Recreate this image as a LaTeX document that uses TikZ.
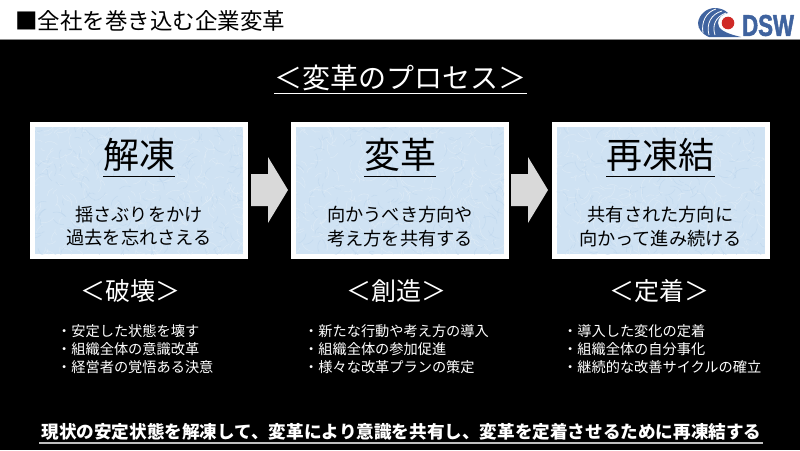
\documentclass[tikz,border=0pt]{standalone}
\usepackage{fontspec}
\setmainfont{Noto Sans CJK JP}
\setsansfont[Scale=1]{Liberation Sans}
\definecolor{paper}{HTML}{CFE2F3}
\definecolor{paperlight}{HTML}{E6F0F8}
\definecolor{paperdark}{HTML}{B9D3EC}
\definecolor{shaft}{HTML}{D9D9D9}
\definecolor{logoblue}{HTML}{3F639F}
\definecolor{logored}{HTML}{CF2A27}
\newcommand{\px}[1]{\fontsize{#1}{#1}\selectfont}
\tikzset{
  x=1pt,y=-1pt,
  cardbox/.style={draw=white,line width=5pt,fill=paper,minimum width=213pt,minimum height=132pt,inner sep=0pt,outer sep=0pt},
  heading/.style={font=\px{36},text=black,inner sep=0pt},
  cardtext/.style={font=\px{18.2},text=black,align=center,inner sep=0pt},
  stagelabel/.style={font=\px{25},text=white,inner sep=0pt},
  notes/.style={font=\px{14.2},text=white,align=left,anchor=north west,inner sep=0pt},
  rule/.style={draw=white,line width=1.4pt},
  blockarrow/.style={fill=shaft,draw=none},
}
% mottled paper surface inside a card, kept within its white frame
\newcommand{\papergrain}[1]{%
  \begin{scope}
    \clip ([shift={(2.5,-2.5)}]#1.south west) rectangle ([shift={(-2.5,2.5)}]#1.north east);
    \foreach \k in {1,...,520}{
      \pgfmathsetmacro{\gx}{rnd*225-6}
      \pgfmathsetmacro{\gy}{rnd*144-6}
      \pgfmathsetmacro{\ga}{rnd*360}
      \pgfmathsetmacro{\gl}{4+rnd*9}
      \pgfmathparse{mod(\k,3)==0?"paperdark":"paperlight"}
      \edef\gc{\pgfmathresult}
      \draw[\gc,line width=.55pt,opacity=.5] ([shift={(\gx,-\gy)}]#1.south west) arc[start angle=\ga,delta angle=70,radius=\gl];
    }
  \end{scope}}
\begin{document}
\begin{tikzpicture}
\pgfmathsetseed{271}
\useasboundingbox (0,0) rectangle (800,450);
\fill[white] (0,0) rectangle (800,40);
\fill[black] (0,40) rectangle (800,450);
\draw[black!45,line width=.6pt] (0,39.5) -- (800,39.5);

% page header
\node[anchor=west,inner sep=0pt,font=\px{22.5},text=black] (pagehead) at (15,21) {■全社を巻き込む企業変革};

% company mark
\begin{scope}
  \fill[logoblue] (698,23) .. controls (699,14) and (707,8) .. (715,8)
     .. controls (720,8) and (725,10) .. (728,13)
     .. controls (722,14) and (718,18) .. (718,23)
     .. controls (718,29) and (724,33) .. (741,37)
     -- (709,37) .. controls (702,34) and (698,29) .. (698,23) -- cycle;
  \draw[white,line width=.8pt] (703,33) .. controls (701,22) and (706,12) .. (716,9);
  \draw[white,line width=.8pt] (709,35) .. controls (706,24) and (711,14) .. (722,11);
  \draw[white,line width=.8pt] (715,35) .. controls (712,26) and (715,17) .. (726,13);
  \fill[logored] (728,23) circle (6.3);
\end{scope}
\node[anchor=west,inner sep=0pt,text=logoblue,font=\sffamily\bfseries\px{30}] (logotype) at (742,25.5) {\addfontfeature{FakeStretch=.74,FakeBold=1.5}DSW};

% section title
\node[inner sep=0pt,font=\px{28},text=white] (title) at (400.5,78) {＜変革のプロセス＞};
\draw[rule] (274,93.5) -- (527,93.5);

% the three stage cards
\node[cardbox] (card1) at (139,190.5) {};
\node[cardbox] (card2) at (400,190.5) {};
\node[cardbox] (card3) at (660.5,190.5) {};
\papergrain{card1}
\papergrain{card2}
\papergrain{card3}

\node[heading] (h1) at (139,155) {解凍};
\node[heading] (h2) at (400,155) {変革};
\node[heading] (h3) at (660.5,155) {再凍結};
\draw[black,line width=1.2pt] (103,176.5) -- (175,176.5);
\draw[black,line width=1.2pt] (364,176.5) -- (436,176.5);
\draw[black,line width=1.2pt] (606,176.5) -- (715,176.5);

\node[cardtext] (t1) at (139,226.5) {揺さぶりをかけ\\[5pt]過去を忘れさえる};
\node[cardtext] (t2) at (400,226.5) {向かうべき方向や\\[5pt]考え方を共有する};
\node[cardtext] (t3) at (660.5,226.5) {共有された方向に\\[5pt]向かって進み続ける};

% block arrows between the cards
\foreach \ox in {0,260}{
  \fill[blockarrow,xshift=\ox pt] (251,174) -- (268,174) -- (268,157) -- (288,190) -- (268,223) -- (268,206) -- (251,206) -- cycle;
}

% stage labels
\node[stagelabel] (s1) at (130,291) {＜破壊＞};
\node[stagelabel] (s2) at (396,291) {＜創造＞};
\node[stagelabel] (s3) at (659,291) {＜定着＞};

% notes under each stage
\node[notes] (n1) at (57,324.5) {・安定した状態を壊す\\[3.6pt]・組織全体の意識改革\\[3.6pt]・経営者の覚悟ある決意};
\node[notes] (n2) at (304,324.5) {・新たな行動や考え方の導入\\[3.6pt]・組織全体の参加促進\\[3.6pt]・様々な改革プランの策定};
\node[notes] (n3) at (563,324.5) {・導入した変化の定着\\[3.6pt]・組織全体の自分事化\\[3.6pt]・継続的な改善サイクルの確立};

% closing statement
\node[inner sep=0pt,font=\bfseries\px{17.6},text=white] (summary) at (401.5,432) {現状の安定状態を解凍して、変革により意識を共有し、変革を定着させるために再凍結する};
\draw[white!75!black,line width=1.3pt] (39,443) -- (763,443);
\end{tikzpicture}
\end{document}
